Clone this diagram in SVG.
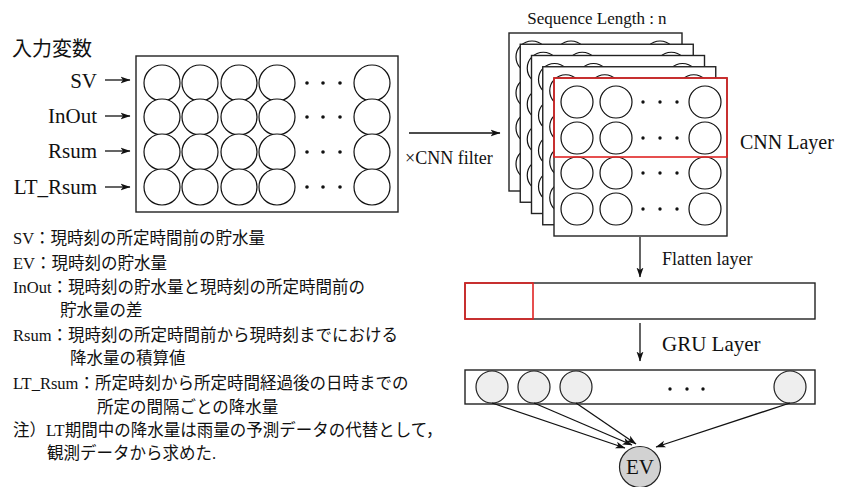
<svg xmlns="http://www.w3.org/2000/svg" xmlns:xlink="http://www.w3.org/1999/xlink" width="848" height="487" viewBox="0 0 848 487">
<style>
.t{font-family:"Liberation Serif","Noto Sans CJK JP",serif;fill:#111}
.j{font-family:"Liberation Serif","Noto Sans CJK JP",serif;fill:#111;font-size:16.5px}
.box{fill:#fff;stroke:#222;stroke-width:1.4}
.c{fill:#fff;stroke:#111;stroke-width:1.2}
.g{fill:#eeeeee;stroke:#222;stroke-width:1.2}
.d{fill:#111}
.red{fill:none;stroke:#e02424;stroke-width:1.6}
.ln{stroke:#111;stroke-width:1.3;fill:none}
</style>
<defs>
<marker id="ah" viewBox="0 0 10 8" refX="9.5" refY="4" markerWidth="10" markerHeight="8" markerUnits="userSpaceOnUse" orient="auto">
<path d="M0,0.5 L10,4 L0,7.5 L2.5,4 Z" fill="#111"/>
</marker>
<g id="frame">
<rect class="box" x="0" y="0" width="173" height="158"/>
<g class="c">
<circle cx="23" cy="24" r="16"/><circle cx="62" cy="24" r="16"/><circle cx="151" cy="24" r="16"/>
<circle cx="23" cy="60" r="16"/><circle cx="62" cy="60" r="16"/><circle cx="151" cy="60" r="16"/>
<circle cx="23" cy="95" r="16"/><circle cx="62" cy="95" r="16"/><circle cx="151" cy="95" r="16"/>
<circle cx="23" cy="131" r="16"/><circle cx="62" cy="131" r="16"/><circle cx="151" cy="131" r="16"/>
</g>
<g class="d">
<circle cx="89" cy="24" r="1.7"/><circle cx="106" cy="24" r="1.7"/><circle cx="123" cy="24" r="1.7"/>
<circle cx="89" cy="60" r="1.7"/><circle cx="106" cy="60" r="1.7"/><circle cx="123" cy="60" r="1.7"/>
<circle cx="89" cy="95" r="1.7"/><circle cx="106" cy="95" r="1.7"/><circle cx="123" cy="95" r="1.7"/>
<circle cx="89" cy="131" r="1.7"/><circle cx="106" cy="131" r="1.7"/><circle cx="123" cy="131" r="1.7"/>
</g>
</g>
<g id="inrow">
<circle class="c" cx="162" cy="0" r="18"/><circle class="c" cx="200" cy="0" r="18"/>
<circle class="c" cx="239" cy="0" r="18"/><circle class="c" cx="277" cy="0" r="18"/>
<circle class="c" cx="372" cy="0" r="18"/>
<circle class="d" cx="307" cy="0" r="1.8"/><circle class="d" cx="323" cy="0" r="1.8"/><circle class="d" cx="340" cy="0" r="1.8"/>
</g>
</defs>

<text class="t" x="12" y="56" font-size="20">入力変数</text>

<g id="input-layer">
<rect class="box" x="136" y="56" width="262" height="156"/>
<use xlink:href="#inrow" href="#inrow" y="83"/>
<use xlink:href="#inrow" href="#inrow" y="117"/>
<use xlink:href="#inrow" href="#inrow" y="152"/>
<use xlink:href="#inrow" href="#inrow" y="187"/>
</g>

<g id="input-labels">
<text class="t" x="97" y="88" font-size="21" text-anchor="end">SV</text>
<text class="t" x="97" y="123" font-size="21" text-anchor="end">InOut</text>
<text class="t" x="97" y="158" font-size="21" text-anchor="end">Rsum</text>
<text class="t" x="97" y="194" font-size="21" text-anchor="end">LT_Rsum</text>
</g>

<g id="cnn-layer">
<text class="t" x="597" y="24" font-size="17" text-anchor="middle">Sequence Length : n</text>
<use xlink:href="#frame" href="#frame" x="509" y="33"/>
<use xlink:href="#frame" href="#frame" x="520.25" y="44.25"/>
<use xlink:href="#frame" href="#frame" x="531.5" y="55.5"/>
<use xlink:href="#frame" href="#frame" x="542.75" y="66.75"/>
<use xlink:href="#frame" href="#frame" x="554" y="78"/>
<rect class="red" x="554" y="78" width="173" height="79"/>
<text class="t" x="740" y="149" font-size="20">CNN Layer</text>
</g>

<g id="flatten-layer">
<text class="t" x="662" y="265" font-size="18">Flatten layer</text>
<rect class="box" x="465" y="283" width="350" height="36"/>
<rect class="red" x="465" y="283" width="68" height="36"/>
</g>

<g id="gru-layer">
<text class="t" x="662" y="351" font-size="21">GRU Layer</text>
<rect class="box" x="465" y="370" width="350" height="34"/>
<circle class="g" cx="492" cy="387" r="16"/>
<circle class="g" cx="534" cy="387" r="16"/>
<circle class="g" cx="576" cy="387" r="16"/>
<circle class="g" cx="790" cy="387" r="16"/>
<circle class="d" cx="670" cy="389" r="1.7"/><circle class="d" cx="687" cy="389" r="1.7"/><circle class="d" cx="703" cy="389" r="1.7"/>
</g>

<g id="ev-node">
<circle cx="640" cy="467" r="20.5" fill="#d2d2d2" stroke="#222" stroke-width="1.2"/>
<text class="t" x="640" y="474" font-size="21" text-anchor="middle">EV</text>
</g>

<g id="connectors">
<line class="ln" x1="105" y1="80" x2="130" y2="80" marker-end="url(#ah)"/>
<line class="ln" x1="105" y1="116" x2="130" y2="116" marker-end="url(#ah)"/>
<line class="ln" x1="105" y1="151" x2="130" y2="151" marker-end="url(#ah)"/>
<line class="ln" x1="105" y1="187" x2="130" y2="187" marker-end="url(#ah)"/>
<line class="ln" x1="409" y1="133" x2="500" y2="133" marker-end="url(#ah)"/>
<line class="ln" x1="640" y1="237" x2="640" y2="277" marker-end="url(#ah)"/>
<line class="ln" x1="640" y1="323" x2="640" y2="361" marker-end="url(#ah)"/>
<line class="ln" x1="492" y1="403" x2="625" y2="448" marker-end="url(#ah)"/>
<line class="ln" x1="534" y1="403" x2="632" y2="445" marker-end="url(#ah)"/>
<line class="ln" x1="576" y1="403" x2="636" y2="444" marker-end="url(#ah)"/>
<line class="ln" x1="790" y1="403" x2="656" y2="447" marker-end="url(#ah)"/>
</g>
<text class="t" x="405" y="164" font-size="18">×CNN filter</text>

<g id="legend">
<text class="j" x="13" y="244">SV：現時刻の所定時間前の貯水量</text>
<text class="j" x="13" y="269">EV：現時刻の貯水量</text>
<text class="j" x="13" y="293">InOut：現時刻の貯水量と現時刻の所定時間前の</text>
<text class="j" x="60" y="316">貯水量の差</text>
<text class="j" x="13" y="341">Rsum：現時刻の所定時間前から現時刻までにおける</text>
<text class="j" x="70" y="364">降水量の積算値</text>
<text class="j" x="13" y="389">LT_Rsum：所定時刻から所定時間経過後の日時までの</text>
<text class="j" x="97" y="413">所定の間隔ごとの降水量</text>
<text class="j" x="13" y="436">注）LT期間中の降水量は雨量の予測データの代替として，</text>
<text class="j" x="47" y="459">観測データから求めた.</text>
</g>
</svg>
